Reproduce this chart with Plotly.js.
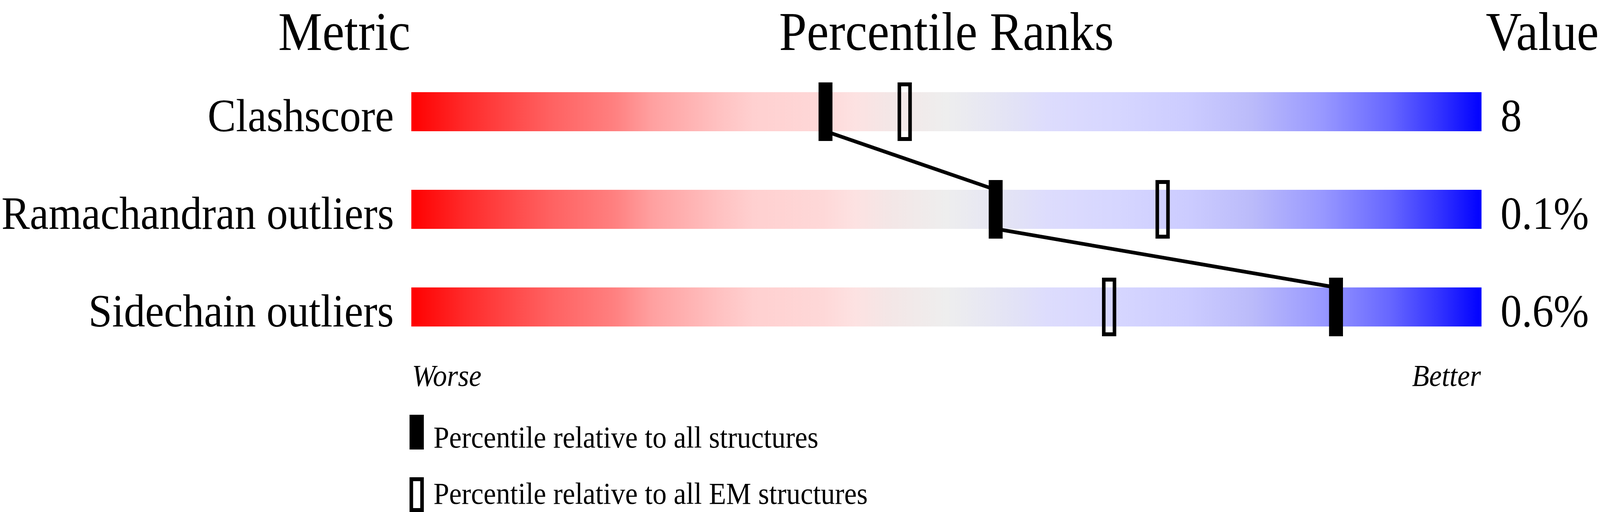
<!DOCTYPE html>
<html>
<head>
<meta charset="utf-8">
<script src="https://cdn.plot.ly/plotly-3.0.1.min.js"></script>
<style>
  html, body { margin: 0; padding: 0; background: #fff; overflow: hidden; }
  #chart { width: 4485px; height: 1311px; transform-origin: 0 0; }
</style>
</head>
<body>
<div id="chart"></div>
<script>
// metric rows, top to bottom
const metrics = ["Clashscore", "Ramachandran outliers", "Sidechain outliers"];
const valueLabels = ["8", "0.1%", "0.6%"];
// percentile ranks
const pctAll = [38.7, 54.6, 86.4];
const pctEM = [46.1, 70.2, 65.2];
const legendLabels = [
  "Percentile relative to all structures",
  "Percentile relative to all EM structures",
];

const W = 4485;
const H = 1311;
const FONT = "Liberation Serif, Times New Roman, serif";
const barHalf = 0.2;
const markHalf = 0.3;

// red -> grey -> blue slider
const sliderScale = [
  [0, "#ff0000"],
  [0.05, "#ff2a2a"],
  [0.1, "#ff4d4d"],
  [0.128, "#ff6060"],
  [0.19, "#ff8080"],
  [0.225, "#ffa0a0"],
  [0.255, "#ffb0b0"],
  [0.285, "#ffc0c0"],
  [0.32, "#ffd0d0"],
  [0.385, "#fed8d8"],
  [0.415, "#fde2e2"],
  [0.445, "#f4e6e6"],
  [0.5, "#eeeeee"],
  [0.565, "#e2e2f6"],
  [0.595, "#dddcfd"],
  [0.66, "#d6d6ff"],
  [0.725, "#ccccff"],
  [0.785, "#bbbbfa"],
  [0.85, "#9999ff"],
  [0.915, "#6666ff"],
  [0.96, "#3333ff"],
  [1, "#0000ff"],
];

const chart = document.getElementById("chart");
// the window can come out narrower than asked for; squeeze the whole figure to fit
const sx = Math.min(1, (window.innerWidth || W) / W);
const sy = Math.min(1, (window.innerHeight || H) / H);
chart.style.transform = `scale(${sx}, ${sy})`;

const traces = [];

metrics.forEach((name, i) => {
  traces.push({
    type: "scatter",
    mode: "none",
    x: [0, 100, 100, 0, 0],
    y: [i - barHalf, i - barHalf, i + barHalf, i + barHalf, i - barHalf],
    fill: "toself",
    fillgradient: {
      type: "horizontal",
      start: 0,
      stop: 100,
      colorscale: sliderScale,
    },
    hoverinfo: "skip",
    showlegend: false,
  });
});

// connector between the filled markers: bottom of one bar to top of the next
const lineX = [];
const lineY = [];
pctAll.forEach((p, i) => {
  if (i > 0) {
    lineX.push(p);
    lineY.push(i - barHalf);
  }
  if (i < pctAll.length - 1) {
    lineX.push(p);
    lineY.push(i + barHalf);
  }
});
traces.push({
  type: "scatter",
  mode: "lines",
  x: lineX,
  y: lineY,
  line: { color: "#000", width: 9.5 },
  hoverinfo: "skip",
  showlegend: false,
});

const shapes = [];
pctAll.forEach((p, i) => {
  shapes.push({
    type: "rect",
    layer: "above",
    xref: "x", yref: "y",
    xsizemode: "pixel", xanchor: p,
    x0: -19.5, x1: 19.5,
    y0: i - markHalf, y1: i + markHalf,
    fillcolor: "#000",
    line: { width: 0 },
  });
});
pctEM.forEach((p, i) => {
  shapes.push({
    type: "rect",
    layer: "above",
    xref: "x", yref: "y",
    xsizemode: "pixel", xanchor: p,
    x0: -15, x1: 15,
    y0: i - markHalf + 0.02, y1: i + markHalf - 0.02,
    fillcolor: "rgba(0,0,0,0)",
    line: { color: "#000", width: 10 },
  });
});

// legend keys
const py = px => 1 - px / H;
shapes.push({
  type: "rect", xref: "paper", yref: "paper",
  x0: 1148 / W, x1: 1188 / W, y0: py(1151), y1: py(1062),
  fillcolor: "#000", line: { width: 0 },
});
shapes.push({
  type: "rect", xref: "paper", yref: "paper",
  x0: 1153 / W, x1: 1183 / W, y0: py(1306), y1: py(1227),
  fillcolor: "rgba(0,0,0,0)", line: { color: "#000", width: 10 },
});

const annotations = [];
const header = (text, xref, x, xanchor, xshift) => ({
  text, xref, yref: "paper", x, y: 1,
  xanchor, yanchor: "top", xshift, yshift: -2, showarrow: false,
  font: { family: FONT, size: 139, color: "#000" },
});
annotations.push(header("Metric", "x", 0, "right", 0));
annotations.push(header("Percentile Ranks", "x", 50, "center", 0));
annotations.push(header("Value", "paper", 1, "right", -2));

metrics.forEach((name, i) => {
  annotations.push({
    text: name, xref: "x", yref: "y", x: 0, y: i,
    xanchor: "right", yanchor: "middle", xshift: -47, yshift: -10,
    showarrow: false,
    font: { family: FONT, size: 119, color: "#000" },
  });
  annotations.push({
    text: valueLabels[i], xref: "x", yref: "y", x: 100, y: i,
    xanchor: "left", yanchor: "middle", xshift: 51, yshift: -10,
    showarrow: false,
    font: { family: FONT, size: 119, color: "#000" },
  });
});

annotations.push({
  text: "<i>Worse</i>", xref: "x", yref: "paper", x: 0, y: py(961),
  xanchor: "left", yanchor: "middle", showarrow: false,
  font: { family: FONT, size: 79, color: "#000" },
});
annotations.push({
  text: "<i>Better</i>", xref: "x", yref: "paper", x: 100, y: py(961),
  xanchor: "right", yanchor: "middle", showarrow: false,
  font: { family: FONT, size: 79, color: "#000" },
});

legendLabels.forEach((label, k) => {
  annotations.push({
    text: label, xref: "paper", yref: "paper",
    x: 1213 / W, y: k === 0 ? py(1119) : 0,
    xanchor: "left", yanchor: k === 0 ? "middle" : "bottom",
    yshift: k === 0 ? 0 : 2,
    showarrow: false,
    font: { family: FONT, size: 79, color: "#000" },
  });
});

const layout = {
  width: W,
  height: H,
  margin: { l: 0, r: 0, t: 0, b: 0 },
  paper_bgcolor: "#fff",
  plot_bgcolor: "#fff",
  showlegend: false,
  xaxis: {
    domain: [1153 / W, 4153 / W],
    range: [0, 100],
    visible: false,
    fixedrange: true,
  },
  yaxis: {
    domain: [0, 1],
    range: [4.1, -1.144],
    visible: false,
    fixedrange: true,
  },
  shapes,
  annotations,
};

Plotly.newPlot(chart, traces, layout, { staticPlot: true, displayModeBar: false });
</script>
</body>
</html>
